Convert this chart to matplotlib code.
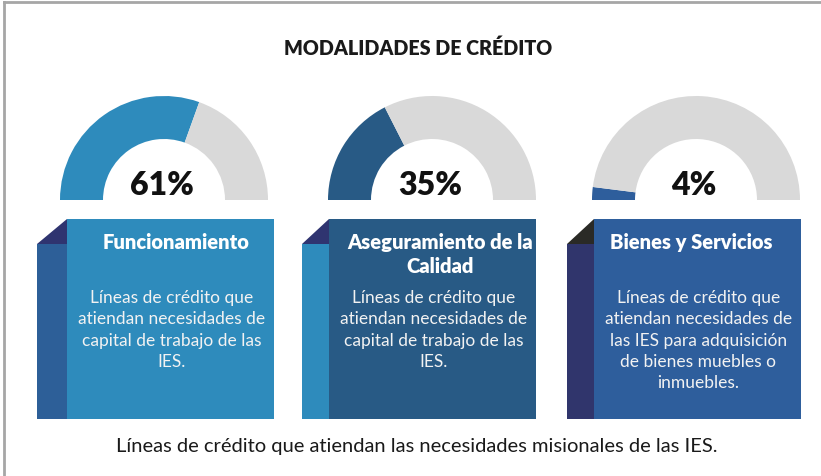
import matplotlib
matplotlib.use("Agg")
import matplotlib.pyplot as plt
from matplotlib.patches import Wedge, Rectangle, Polygon

plt.rcParams['font.family'] = ['Lato', 'DejaVu Sans']

# data
title = "MODALIDADES DE CRÉDITO"
percentages = [61, 35, 4]
box_titles = [["Funcionamiento"], ["Aseguramiento de la", "Calidad"], ["Bienes y Servicios"]]
box_texts = [
    ["Líneas de crédito que", "atiendan necesidades de", "capital de trabajo de las", "IES."],
    ["Líneas de crédito que", "atiendan necesidades de", "capital de trabajo de las", "IES."],
    ["Líneas de crédito que", "atiendan necesidades de", "las IES para adquisición",
     "de bienes muebles o", "inmuebles."],
]
footer = "Líneas de crédito que atiendan las necesidades misionales de las IES."

# styles
gauge_colors = ["#2E8BBC", "#285A85", "#2E5E9C"]
gray = "#D9D9D9"
box_main = ["#2E8BBC", "#285A85", "#2E5E9C"]
box_strip = ["#2D5F98", "#2E8BBC", "#30356C"]
box_corner = ["#2F3470", "#2F3470", "#2A2A26"]
centers_x = [164, 432, 696]
strip_left = [37, 302, 567]
main_left = [67, 329, 594]
main_right = [274, 536, 801]
title_dx = [6, 8, -6]

W, H = 821, 477
fig = plt.figure(figsize=(W / 100, H / 100), dpi=100)
ax = fig.add_axes([0, 0, 1, 1])
ax.set_xlim(0, W)
ax.set_ylim(H, 0)
ax.axis("off")

# frame
ax.plot([4, W], [3, 3], color="#A6A6A6", lw=2)
ax.plot([4, 4], [3, H], color="#A6A6A6", lw=2)

ax.text(418, 48, title, ha="center", va="center", fontsize=14.2, fontweight="heavy", color="#1A1A1A")

R_out, R_in, cy = 104, 61, 201
for i, pct in enumerate(percentages):
    cx = centers_x[i]
    split = 180 + pct * 1.8
    ax.add_patch(Wedge((cx, cy), R_out, 180, split, width=R_out - R_in, color=gauge_colors[i], lw=0))
    ax.add_patch(Wedge((cx, cy), R_out, split, 360, width=R_out - R_in, color=gray, lw=0))
    ax.text(cx - 2, 186, f"{pct}%", ha="center", va="center", fontsize=23, fontweight="heavy", color="#111111")

    # box
    top, bot, fold = 220, 420, 245
    ax.add_patch(Rectangle((strip_left[i], fold), main_left[i] - strip_left[i], bot - fold,
                           color=box_strip[i], lw=0))
    ax.add_patch(Polygon([(strip_left[i], fold), (main_left[i], top), (main_left[i], fold)],
                         closed=True, color=box_corner[i], lw=0))
    ax.add_patch(Rectangle((main_left[i], top), main_right[i] - main_left[i], bot - top,
                           color=box_main[i], lw=0))
    mid = (main_left[i] + main_right[i]) / 2
    for j, line in enumerate(box_titles[i]):
        ax.text(mid + title_dx[i], 243 + j * 24, line, ha="center", va="center",
                fontsize=14.5, fontweight="heavy", color="white")
    for j, line in enumerate(box_texts[i]):
        ax.text(mid + 1, 298 + j * 21.3, line, ha="center", va="center",
                fontsize=12.5, color="#F2F2F2")

ax.text(417, 447, footer, ha="center", va="center", fontsize=14.5, color="#1A1A1A")

fig.savefig("out.png", dpi=100)
